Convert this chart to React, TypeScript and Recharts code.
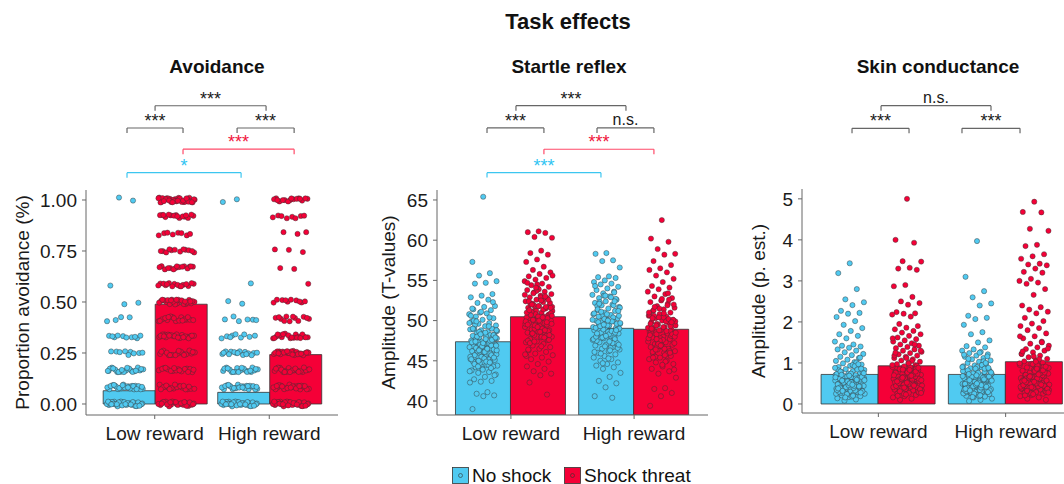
import React from 'react';
import { ComposedChart, Bar, Scatter, XAxis, YAxis, ReferenceLine } from 'recharts';

// ---- data -----------------------------------------------------------------

const categories = ['Low reward', 'High reward'];

// bar heights (group means), [Low reward, High reward]
const avoidNoShockMean = [0.065, 0.057];
const avoidShockMean = [0.489, 0.242];
const startleNoShockMean = [47.37, 49.04];
const startleShockMean = [50.48, 48.92];
const skinNoShockMean = [0.72, 0.72];
const skinShockMean = [0.93, 1.03];

// avoidance is a proportion of 12 trials: count of participants per level
const avoidLevels = [0, 0.083, 0.167, 0.25, 0.333, 0.417, 0.5, 0.583, 0.667, 0.75, 0.833, 0.917, 1];
const avoidNoShockLowCounts = [36, 28, 22, 9, 10, 4, 2, 1, 0, 0, 0, 0, 2];
const avoidShockLowCounts = [26, 20, 18, 18, 22, 18, 26, 16, 15, 12, 8, 16, 36];
const avoidNoShockHighCounts = [36, 26, 22, 16, 9, 6, 2, 1, 0, 0, 0, 0, 2];
const avoidShockHighCounts = [34, 24, 22, 26, 20, 12, 10, 1, 2, 3, 3, 8, 16];

const startleNoShockLow = [
  65.4, 57.3, 55.9, 55.6, 54.9, 54.7, 54.6, 53.3, 53.1, 52.9,
  52.6, 52.2, 51.8, 51.7, 51.4, 51.3, 51.0, 50.8, 50.9, 50.5,
  50.3, 50.1, 49.9, 49.7, 49.6, 49.4, 49.3, 49.1, 49.0, 48.8,
  48.9, 48.6, 48.5, 48.3, 48.4, 48.1, 48.2, 47.9, 47.8, 48.0,
  47.6, 47.7, 47.4, 47.5, 47.2, 47.3, 47.0, 47.1, 46.8, 46.9,
  46.6, 46.7, 46.5, 46.3, 46.4, 46.1, 46.2, 45.9, 46.0, 45.8,
  45.6, 45.7, 45.4, 45.5, 45.2, 45.3, 45.0, 45.1, 44.8, 44.9,
  44.6, 44.7, 44.4, 44.5, 44.2, 44.3, 44.0, 43.8, 43.6, 43.5,
  43.3, 43.0, 42.7, 42.5, 42.4, 42.3, 41.1, 40.9, 40.7, 40.6,
  39.0, 47.5, 48.6, 46.3, 45.6, 49.5, 47.9, 46.9, 50.6, 44.5,
  46.2, 47.8, 45.3, 48.9, 44.1, 47.0, 49.7, 45.8, 46.6, 48.2,
  43.9, 47.3, 50.4, 45.0, 46.9, 48.5, 44.6, 47.6, 51.1, 45.5,
  46.0, 48.0, 43.2, 47.1, 49.0, 45.9, 46.4, 48.7, 44.9, 47.4,
  52.3, 46.8, 45.2, 49.3, 44.3, 47.9, 46.1, 50.0, 45.7, 48.3,
  43.7, 46.5, 49.9, 45.4, 47.2, 51.5, 44.8, 46.3, 48.8, 47.7,
];
const startleShockLow = [
  61.1, 61.0, 60.9, 60.4, 60.3, 58.7, 58.4, 58.2, 57.6, 57.3,
  56.7, 56.3, 56.0, 55.8, 55.5, 55.3, 55.1, 54.9, 54.6, 54.4,
  54.2, 54.0, 53.8, 53.6, 53.5, 53.3, 53.1, 52.9, 52.8, 52.6,
  52.4, 52.3, 52.1, 51.9, 51.8, 51.6, 51.5, 51.3, 51.2, 51.0,
  50.9, 50.7, 50.6, 50.4, 50.3, 50.1, 50.0, 49.8, 49.7, 49.5,
  49.4, 49.2, 49.1, 48.9, 48.8, 48.6, 48.5, 48.3, 48.2, 48.0,
  47.9, 47.7, 47.6, 47.4, 47.3, 47.1, 46.9, 46.7, 46.5, 46.3,
  46.1, 45.9, 45.7, 45.4, 45.2, 44.9, 44.6, 44.3, 44.0, 43.7,
  43.4, 43.2, 42.3, 40.8, 51.2, 49.6, 52.7, 48.4, 50.8, 53.9,
  47.5, 50.2, 49.0, 51.7, 46.8, 52.0, 48.7, 54.5, 45.6, 50.5,
  50.1, 51.6, 49.3, 52.4, 48.1, 50.8, 53.2, 49.0, 51.1, 47.6,
  50.5, 54.7, 48.8, 51.9, 49.6, 52.9, 47.2, 50.3, 53.7, 49.9,
  51.4, 48.4, 52.2, 50.0, 46.4, 51.7, 49.4, 55.6, 48.0, 50.7,
  52.6, 49.2, 51.0, 47.9, 53.4, 50.9, 48.6, 51.3, 49.8, 54.1,
  45.8, 50.4, 52.0, 48.2, 51.8, 49.5, 53.0, 47.4, 50.6, 52.5,
];
const startleNoShockHigh = [
  58.4, 58.3, 57.5, 57.4, 56.6, 55.5, 55.4, 55.3, 55.0, 54.8,
  54.6, 54.5, 54.2, 54.0, 53.8, 53.6, 53.4, 53.2, 53.0, 52.8,
  52.6, 52.4, 52.2, 52.0, 51.9, 51.7, 51.5, 51.3, 51.2, 51.0,
  50.8, 50.7, 50.5, 50.3, 50.2, 50.0, 49.9, 49.7, 49.6, 49.4,
  49.3, 49.1, 49.0, 48.8, 48.7, 48.5, 48.4, 48.2, 48.1, 47.9,
  47.8, 47.6, 47.5, 47.3, 47.2, 47.0, 46.9, 46.7, 46.5, 46.4,
  46.2, 46.0, 45.8, 45.6, 45.4, 45.2, 45.0, 44.8, 44.6, 44.4,
  44.2, 44.0, 43.5, 43.0, 42.5, 42.2, 41.7, 40.6, 40.4, 49.8,
  50.6, 48.6, 51.8, 47.7, 53.1, 49.2, 46.6, 52.3, 48.9, 50.1,
  49.1, 50.4, 47.9, 51.6, 48.3, 49.8, 52.7, 46.8, 50.9, 48.7,
  45.9, 51.2, 49.4, 47.5, 53.5, 48.9, 50.1, 46.3, 52.1, 49.6,
  48.1, 54.3, 47.2, 50.6, 49.0, 45.3, 51.4, 48.5, 50.2, 47.7,
  52.9, 49.3, 46.6, 50.8, 48.0, 51.9, 44.7, 49.7, 47.4, 50.5,
  48.8, 53.1, 46.1, 49.9, 51.1, 47.0, 50.0, 48.4, 52.4, 49.5,
];
const startleShockHigh = [
  62.5, 60.2, 59.8, 58.9, 58.3, 58.2, 57.4, 56.9, 56.5, 56.3,
  56.0, 55.6, 55.2, 54.8, 54.3, 54.1, 53.9, 53.6, 53.3, 53.0,
  52.8, 52.5, 52.3, 52.1, 51.8, 51.6, 51.4, 51.2, 51.0, 50.8,
  50.6, 50.5, 50.3, 50.1, 50.0, 49.8, 49.7, 49.5, 49.4, 49.2,
  49.1, 48.9, 48.8, 48.6, 48.5, 48.3, 48.2, 48.0, 47.9, 47.7,
  47.6, 47.4, 47.3, 47.1, 47.0, 46.8, 46.7, 46.5, 46.4, 46.2,
  46.0, 45.8, 45.6, 45.4, 45.2, 45.0, 44.8, 44.6, 44.3, 44.0,
  43.7, 43.4, 42.9, 41.6, 41.5, 41.0, 40.6, 39.4, 48.4, 49.6,
  47.2, 50.4, 46.1, 48.7, 51.5, 47.8, 49.9, 45.5, 48.1, 52.7,
  48.6, 50.2, 47.3, 49.9, 46.5, 51.3, 48.1, 47.8, 50.7, 45.9,
  49.4, 52.0, 47.6, 48.9, 46.2, 50.4, 49.1, 44.9, 51.7, 48.3,
  47.0, 49.6, 53.4, 46.8, 48.0, 50.9, 45.4, 49.3, 47.5, 51.0,
  48.7, 46.4, 50.1, 44.5, 49.0, 52.6, 47.1, 48.5, 45.7, 50.6,
  49.8, 46.9, 48.2, 51.9, 47.7, 43.9, 49.2, 50.3, 46.0, 48.8,
];

const skinNoShockLow = [
  3.43, 3.19, 2.8, 2.55, 2.48, 2.41, 2.27, 2.22, 2.2, 2.12,
  2.02, 1.93, 1.85, 1.78, 1.7, 1.66, 1.6, 1.52, 1.45, 1.42,
  1.4, 1.37, 1.33, 1.3, 1.26, 1.22, 1.19, 1.15, 1.12, 1.08,
  1.05, 1.02, 0.99, 0.96, 0.93, 0.9, 0.88, 0.85, 0.83, 0.8,
  0.78, 0.76, 0.74, 0.72, 0.7, 0.68, 0.66, 0.64, 0.62, 0.6,
  0.58, 0.57, 0.55, 0.54, 0.52, 0.5, 0.49, 0.47, 0.46, 0.44,
  0.43, 0.41, 0.4, 0.38, 0.37, 0.35, 0.34, 0.32, 0.31, 0.29,
  0.28, 0.26, 0.25, 0.23, 0.21, 0.19, 0.17, 0.14, 0.11, 0.08,
  0.61, 0.53, 0.45, 0.39, 0.67, 0.71, 0.48, 0.36, 0.59, 0.42,
  0.82, 0.3, 0.51, 0.63, 0.95, 0.27, 0.44, 0.56, 0.73, 0.33,
  0.52, 0.31, 0.74, 0.45, 0.63, 0.22, 0.88, 0.39, 0.57, 0.28,
  0.69, 0.48, 1.01, 0.35, 0.6, 0.18, 0.79, 0.43, 0.55, 0.25,
  0.92, 0.37, 0.66, 0.5, 0.3, 0.84, 0.41, 0.58, 0.2, 0.71,
  1.13, 0.46, 0.34, 0.62, 0.27, 0.77, 0.53, 0.4, 0.97, 0.24,
  0.65, 0.44, 0.32, 0.86, 0.5, 0.38, 0.59, 0.16, 0.75, 0.47,
];
const skinShockLow = [
  5.0, 4.0, 3.93, 3.48, 3.47, 3.32, 3.3, 3.27, 2.9, 2.87,
  2.61, 2.5, 2.46, 2.42, 2.24, 2.21, 2.2, 2.18, 2.13, 1.95,
  1.9, 1.86, 1.82, 1.78, 1.74, 1.7, 1.66, 1.62, 1.58, 1.55,
  1.52, 1.48, 1.45, 1.42, 1.39, 1.36, 1.33, 1.3, 1.27, 1.24,
  1.21, 1.18, 1.15, 1.12, 1.09, 1.06, 1.03, 1.0, 0.97, 0.95,
  0.92, 0.9, 0.87, 0.85, 0.82, 0.8, 0.78, 0.75, 0.73, 0.71,
  0.69, 0.67, 0.65, 0.63, 0.61, 0.59, 0.57, 0.55, 0.53, 0.51,
  0.49, 0.47, 0.45, 0.43, 0.41, 0.39, 0.37, 0.35, 0.33, 0.31,
  0.29, 0.27, 0.25, 0.22, 0.19, 0.16, 0.13, 0.1, 0.62, 0.54,
  0.76, 0.48, 0.84, 0.58, 0.68, 0.42, 0.93, 0.36, 0.7, 0.5,
  0.58, 0.34, 0.81, 0.46, 0.67, 0.25, 0.95, 0.42, 0.6, 0.3,
  1.12, 0.53, 0.72, 0.38, 1.3, 0.49, 0.2, 0.86, 0.63, 0.41,
  1.05, 0.56, 0.28, 0.77, 0.44, 1.45, 0.66, 0.33, 0.9, 0.51,
  0.74, 0.23, 1.18, 0.47, 0.61, 0.36, 0.99, 0.55, 0.79, 0.4,
  1.6, 0.69, 0.31, 0.88, 0.52, 1.25, 0.45, 0.64, 0.27, 0.83,
];
const skinNoShockHigh = [
  3.97, 3.1, 2.75, 2.6, 2.45, 2.4, 2.15, 2.1, 2.07, 1.93,
  1.75, 1.7, 1.55, 1.5, 1.41, 1.38, 1.33, 1.3, 1.27, 1.24,
  1.21, 1.18, 1.15, 1.12, 1.09, 1.06, 1.03, 1.0, 0.97, 0.94,
  0.92, 0.89, 0.87, 0.84, 0.82, 0.8, 0.78, 0.75, 0.73, 0.71,
  0.69, 0.67, 0.65, 0.63, 0.61, 0.59, 0.57, 0.56, 0.54, 0.52,
  0.5, 0.49, 0.47, 0.45, 0.44, 0.42, 0.41, 0.39, 0.38, 0.36,
  0.35, 0.33, 0.32, 0.3, 0.29, 0.27, 0.26, 0.24, 0.22, 0.2,
  0.18, 0.16, 0.13, 0.1, 0.07, 0.62, 0.55, 0.48, 0.4, 0.66,
  0.7, 0.46, 0.37, 0.58, 0.43, 0.8, 0.31, 0.51, 0.64, 0.9,
  0.28, 0.45, 0.53, 0.74, 0.34, 1.1, 0.6, 0.86, 1.2, 0.96,
  0.55, 0.33, 0.76, 0.44, 0.62, 0.23, 0.9, 0.4, 0.58, 0.29,
  0.7, 0.49, 1.04, 0.36, 0.61, 0.19, 0.82, 0.42, 0.54, 0.26,
  0.95, 0.38, 0.67, 0.51, 0.31, 0.86, 0.43, 0.57, 0.21, 0.73,
  1.16, 0.47, 0.35, 0.64, 0.28, 0.79, 0.52, 0.39, 1.0, 0.25,
  0.68, 0.46, 0.33, 0.88, 0.5, 0.37, 0.6, 0.17, 0.77, 1.25,
];
const skinShockHigh = [
  4.93, 4.68, 4.67, 4.27, 4.22, 3.88, 3.85, 3.65, 3.6, 3.54,
  3.42, 3.4, 3.38, 3.3, 3.22, 3.2, 3.05, 3.0, 2.96, 2.93,
  2.8, 2.66, 2.4, 2.36, 2.3, 2.25, 2.21, 2.1, 2.02, 1.96,
  1.9, 1.85, 1.8, 1.72, 1.65, 1.6, 1.52, 1.47, 1.42, 1.38,
  1.34, 1.3, 1.26, 1.22, 1.18, 1.14, 1.1, 1.07, 1.04, 1.01,
  0.98, 0.95, 0.92, 0.89, 0.86, 0.84, 0.81, 0.79, 0.76, 0.74,
  0.72, 0.7, 0.67, 0.65, 0.63, 0.61, 0.59, 0.57, 0.55, 0.53,
  0.51, 0.49, 0.47, 0.45, 0.43, 0.41, 0.39, 0.37, 0.35, 0.33,
  0.31, 0.29, 0.27, 0.25, 0.22, 0.19, 0.16, 0.13, 0.1, 0.66,
  0.58, 0.8, 0.5, 0.88, 0.62, 0.71, 0.44, 0.97, 0.38, 0.75,
  0.6, 0.35, 0.84, 0.48, 0.7, 0.26, 0.99, 0.43, 0.63, 0.31,
  1.16, 0.55, 0.75, 0.39, 1.35, 0.5, 0.21, 0.9, 0.66, 0.42,
  1.09, 0.58, 0.29, 0.8, 0.46, 1.5, 0.68, 0.34, 0.94, 0.53,
  0.77, 0.24, 1.22, 0.49, 0.64, 0.37, 1.03, 0.57, 0.82, 0.41,
  1.65, 0.72, 0.32, 0.91, 0.54, 1.28, 0.47, 0.67, 0.28, 0.86,
];

const avoidTicks = [0, 0.25, 0.5, 0.75, 1];
const startleTicks = [40, 45, 50, 55, 60, 65];
const skinTicks = [0, 1, 2, 3, 4, 5];

// ---- styling --------------------------------------------------------------

const FONT = '"Liberation Sans", Arial, Helvetica, sans-serif';
const BLUE = '#50CAF1';
const RED = '#F50037';
const GREY = '#666666';
const BAR_OFF = 0.225; // half a bar, in category units

type Bracket = { x1: number; x2: number; y: number; text: string; tone?: 'red' | 'blue' };

const toneLine = { red: '#FF4A68', blue: '#3CC6F0' };
const toneText = { red: '#F0143C', blue: '#30C4F2' };

// deterministic display jitter (like geom_jitter, but stable)
const jx = (i: number) => ((0.5 + i * 0.6180339887) % 1) - 0.5;
const jy = (i: number) => ((0.5 + i * i * 0.3183098862) % 1) - 0.5;

const fromCounts = (counts: number[]) =>
  counts.flatMap((n, k) => Array.from({ length: n }, () => avoidLevels[k]));

type PanelProps = {
  left: number;
  top: number;
  width: number;
  height: number;
  marginTop: number;
  yWidth: number;
  yDomain: [number, number];
  yTicks: number[];
  fmt: (v: number) => string;
  yLabel: string;
  labelX: number;
  noShockMean: number[];
  shockMean: number[];
  groups: number[][]; // lowNo, lowShock, highNo, highShock
  spread: number;
  shift: number;
  ySpread: number;
  brackets: Bracket[];
  tick: number;
};

function Panel(p: PanelProps) {
  const plotW = p.width - p.yWidth;
  const pad = (plotW / 2.2) * 0.1;
  const barData = categories.map((c, i) => ({ cat: c, noShock: p.noShockMean[i], shock: p.shockMean[i] }));
  const centers = [1 - BAR_OFF, 1 + BAR_OFF, 2 - BAR_OFF, 2 + BAR_OFF];
  const pts = p.groups.map((vals, g) =>
    vals.map((v, i) => ({ x: centers[g] + p.shift + jx(i) * 2 * p.spread, y: v + jy(i) * 2 * p.ySpread })),
  );
  const dot = (fill: string) => (s: any) => (
    <circle cx={s.cx} cy={s.cy} r={2.6} fill={fill} stroke="#333" strokeOpacity={0.75} strokeWidth={0.6} />
  );

  return (
    <div style={{ position: 'absolute', left: p.left, top: p.top }}>
      <ComposedChart
        width={p.width}
        height={p.height}
        data={barData}
        margin={{ top: p.marginTop, right: 0, bottom: 0, left: 0 }}
        barGap={0}
        barCategoryGap="5%"
      >
        <XAxis
          xAxisId="cat"
          dataKey="cat"
          type="category"
          interval={0}
          padding={{ left: pad, right: pad }}
          height={30}
          tickSize={4}
          tickMargin={8}
          stroke={GREY}
          tick={{ fill: '#1a1a1a', fontSize: 19, fontFamily: FONT }}
        />
        <XAxis xAxisId="num" dataKey="x" type="number" domain={[0.4, 2.6]} allowDataOverflow hide />
        <YAxis
          width={p.yWidth}
          type="number"
          domain={p.yDomain}
          ticks={p.yTicks}
          allowDataOverflow
          tickFormatter={p.fmt}
          tickSize={4}
          tickMargin={5}
          stroke={GREY}
          tick={{ fill: '#1a1a1a', fontSize: 19, fontFamily: FONT }}
          label={{
            value: p.yLabel,
            angle: -90,
            position: 'insideLeft',
            offset: p.labelX,
            fill: '#1a1a1a',
            fontSize: 19,
            fontFamily: FONT,
            style: { textAnchor: 'middle' },
          }}
        />
        <Bar xAxisId="cat" dataKey="noShock" fill={BLUE} stroke="#333" strokeWidth={0.8} isAnimationActive={false} />
        <Bar xAxisId="cat" dataKey="shock" fill={RED} stroke="#333" strokeWidth={0.8} isAnimationActive={false} />
        {pts.map((d, g) => (
          <Scatter
            key={g}
            xAxisId="num"
            data={d}
            dataKey="y"
            shape={dot(g % 2 === 0 ? BLUE : RED)}
            isAnimationActive={false}
          />
        ))}
        {p.brackets.flatMap((b, k) => {
          const line = b.tone ? toneLine[b.tone] : GREY;
          const txt = b.tone ? toneText[b.tone] : '#1a1a1a';
          const ns = b.text === 'n.s.';
          return [
            <ReferenceLine
              key={`h${k}`}
              xAxisId="num"
              ifOverflow="visible"
              segment={[{ x: b.x1, y: b.y }, { x: b.x2, y: b.y }]}
              stroke={line}
              strokeWidth={1.2}
              label={{
                value: b.text,
                position: 'top',
                offset: ns ? 3 : 1,
                fill: txt,
                fontSize: ns ? 16 : 18,
                fontFamily: FONT,
              }}
            />,
            <ReferenceLine
              key={`l${k}`}
              xAxisId="num"
              ifOverflow="visible"
              segment={[{ x: b.x1, y: b.y }, { x: b.x1, y: b.y - p.tick }]}
              stroke={line}
              strokeWidth={1.2}
            />,
            <ReferenceLine
              key={`r${k}`}
              xAxisId="num"
              ifOverflow="visible"
              segment={[{ x: b.x2, y: b.y }, { x: b.x2, y: b.y - p.tick }]}
              stroke={line}
              strokeWidth={1.2}
            />,
          ];
        })}
      </ComposedChart>
    </div>
  );
}

const avoidBrackets: Bracket[] = [
  { x1: 1.003, x2: 1.972, y: 1.462, text: '***' },
  { x1: 0.758, x2: 1.247, y: 1.353, text: '***' },
  { x1: 1.719, x2: 2.217, y: 1.353, text: '***' },
  { x1: 1.247, x2: 2.217, y: 1.249, text: '***', tone: 'red' },
  { x1: 0.758, x2: 1.754, y: 1.134, text: '*', tone: 'blue' },
];
const startleBrackets: Bracket[] = [
  { x1: 1.041, x2: 1.934, y: 76.73, text: '***' },
  { x1: 0.806, x2: 1.268, y: 73.96, text: '***' },
  { x1: 1.699, x2: 2.161, y: 73.96, text: 'n.s.' },
  { x1: 1.268, x2: 2.161, y: 71.31, text: '***', tone: 'red' },
  { x1: 0.806, x2: 1.731, y: 68.4, text: '***', tone: 'blue' },
];
const skinBrackets: Bracket[] = [
  { x1: 1.021, x2: 1.885, y: 7.27, text: 'n.s.' },
  { x1: 0.793, x2: 1.241, y: 6.72, text: '***' },
  { x1: 1.657, x2: 2.113, y: 6.72, text: '***' },
];

function Title({ text, cx, cy, size }: { text: string; cx: number; cy: number; size: number }) {
  return (
    <div
      style={{
        position: 'absolute',
        left: cx - 200,
        top: cy - size / 2,
        width: 400,
        textAlign: 'center',
        fontSize: size,
        lineHeight: `${size}px`,
        fontWeight: 'bold',
        color: '#111',
      }}
    >
      {text}
    </div>
  );
}

function Key({ x, color, text }: { x: number; color: string; text: string }) {
  return (
    <>
      <svg style={{ position: 'absolute', left: x, top: 467 }} width={17} height={17}>
        <rect x={0.5} y={0.5} width={16} height={16} fill={color} stroke="#333" strokeWidth={0.8} />
        <circle cx={8.5} cy={8.5} r={2} fill={color} stroke="#333" strokeWidth={0.6} />
      </svg>
      <div style={{ position: 'absolute', left: x + 20, top: 465.5, fontSize: 19, lineHeight: '19px', color: '#111' }}>
        {text}
      </div>
    </>
  );
}

export default function App() {
  return (
    <div
      style={{
        position: 'absolute',
        left: 0,
        top: 0,
        width: 1064,
        height: 484,
        overflow: 'hidden',
        background: '#fff',
        fontFamily: FONT,
      }}
    >
      <Title text="Task effects" cx={568} cy={21.5} size={22} />
      <Title text="Avoidance" cx={217} cy={66} size={19} />
      <Title text="Startle reflex" cx={569} cy={66} size={19} />
      <Title text="Skin conductance" cx={938} cy={66} size={19} />

      <Panel
        left={0}
        top={80}
        width={338}
        height={365}
        marginTop={110}
        yWidth={86}
        yDomain={[-0.054, 1.049]}
        yTicks={avoidTicks}
        fmt={(v) => v.toFixed(2)}
        yLabel="Proportion avoidance (%)"
        labelX={22}
        noShockMean={avoidNoShockMean}
        shockMean={avoidShockMean}
        groups={[
          fromCounts(avoidNoShockLowCounts),
          fromCounts(avoidShockLowCounts),
          fromCounts(avoidNoShockHighCounts),
          fromCounts(avoidShockHighCounts),
        ]}
        spread={0.16}
        shift={-0.035}
        ySpread={0.012}
        brackets={avoidBrackets}
        tick={0.025}
      />
      <Panel
        left={360}
        top={80}
        width={348}
        height={365}
        marginTop={110}
        yWidth={77}
        yDomain={[38.26, 66.24]}
        yTicks={startleTicks}
        fmt={(v) => String(v)}
        yLabel="Amplitude (T-values)"
        labelX={28}
        noShockMean={startleNoShockMean}
        shockMean={startleShockMean}
        groups={[startleNoShockLow, startleShockLow, startleNoShockHigh, startleShockHigh]}
        spread={0.115}
        shift={0}
        ySpread={0}
        brackets={startleBrackets}
        tick={0.62}
      />
      <Panel
        left={720}
        top={80}
        width={362}
        height={363}
        marginTop={109}
        yWidth={82}
        yDomain={[-0.22, 5.24]}
        yTicks={skinTicks}
        fmt={(v) => String(v)}
        yLabel="Amplitude (p. est.)"
        labelX={38}
        noShockMean={skinNoShockMean}
        shockMean={skinShockMean}
        groups={[skinNoShockLow, skinShockLow, skinNoShockHigh, skinShockHigh]}
        spread={0.118}
        shift={0}
        ySpread={0}
        brackets={skinBrackets}
        tick={0.122}
      />

      <Key x={452} color={BLUE} text="No shock" />
      <Key x={564} color={RED} text="Shock threat" />
    </div>
  );
}
